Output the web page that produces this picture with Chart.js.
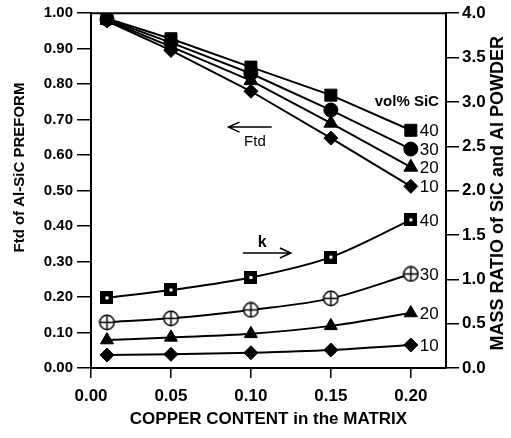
<!DOCTYPE html>
<html>
<head>
<meta charset="utf-8">
<script src="https://cdn.jsdelivr.net/npm/chart.js@4/dist/chart.umd.min.js"></script>
<style>
  html, body { margin: 0; padding: 0; background: #fff; }
  #wrap { width: 511px; height: 438px; }
</style>
</head>
<body>
<div id="wrap"><canvas id="chart" width="511" height="438"></canvas></div>
<script>
// copper content in the matrix (x)
const copper = [0.01, 0.05, 0.10, 0.15, 0.20]
const volLabels = ["40", "30", "20", "10"]

// Ftd of Al-SiC preform (left axis)
const ftd40 = [0.985, 0.928, 0.848, 0.769, 0.670]
const ftd30 = [0.983, 0.917, 0.830, 0.727, 0.617]
const ftd20 = [0.980, 0.906, 0.810, 0.690, 0.566]
const ftd10 = [0.978, 0.895, 0.780, 0.648, 0.512]

// mass ratio k of SiC and Al powder (right axis)
const k40 = [0.79, 0.88, 1.02, 1.25, 1.67]
const k30 = [0.515, 0.56, 0.655, 0.785, 1.06]
const k20 = [0.315, 0.345, 0.385, 0.475, 0.62]
const k10 = [0.146, 0.154, 0.172, 0.203, 0.26]

const leftTicks = [0, 0.1, 0.2, 0.3, 0.4, 0.5, 0.6, 0.7, 0.8, 0.9, 1.0]
const rightTicks = [0, 0.5, 1.0, 1.5, 2.0, 2.5, 3.0, 3.5, 4.0]
const xTicks = [0, 0.05, 0.10, 0.15, 0.20]

const FONT = "'Liberation Sans', Arial, sans-serif"

// marker images for the k series that Chart.js has no built-in style for
function squareDot() {
  const c = document.createElement("canvas")
  c.width = 13; c.height = 13
  const g = c.getContext("2d")
  g.fillStyle = "#000"
  g.fillRect(0, 0, 13, 13)
  g.fillStyle = "#fff"
  g.fillRect(5, 5, 3, 3)
  return c
}
function circleCross() {
  const c = document.createElement("canvas")
  c.width = 17; c.height = 17
  const g = c.getContext("2d")
  g.fillStyle = "#fff"
  g.strokeStyle = "#000"
  g.lineWidth = 1.5
  g.beginPath()
  g.arc(8.5, 8.5, 7.2, 0, Math.PI * 2)
  g.fill()
  g.stroke()
  g.beginPath()
  g.moveTo(8.5, 1.3); g.lineTo(8.5, 15.7)
  g.moveTo(1.3, 8.5); g.lineTo(15.7, 8.5)
  g.stroke()
  return c
}

const pts = (ys) => copper.map((x, i) => ({ x, y: ys[i] }))

function ftdSet(ys, style, radius) {
  return {
    data: pts(ys), yAxisID: "y", borderColor: "#000", backgroundColor: "#000",
    borderWidth: 2, pointStyle: style, pointRadius: radius, pointBorderWidth: 1,
    tension: 0
  }
}
function kSet(ys, style, radius) {
  return {
    data: pts(ys), yAxisID: "y1", borderColor: "#000", backgroundColor: "#000",
    borderWidth: 2, pointStyle: style, pointRadius: radius, pointBorderWidth: 1,
    tension: 0.35, cubicInterpolationMode: "monotone"
  }
}

// frame, arrows, side titles and text labels (placed in data units)
const annotations = {
  id: "annotations",
  afterDatasetsDraw(chart) {
    const { ctx, chartArea: a, scales } = chart
    const X = (v) => scales.x.getPixelForValue(v)
    const Y = (v) => scales.y.getPixelForValue(v)
    ctx.save()
    ctx.strokeStyle = "#000"
    ctx.lineWidth = 2
    ctx.beginPath()
    ctx.moveTo(a.left, a.top); ctx.lineTo(a.right, a.top)
    ctx.stroke()

    // Ftd arrow pointing left
    ctx.lineWidth = 1.5
    let y = Y(0.679), x0 = X(0.086), x1 = X(0.113)
    ctx.beginPath()
    ctx.moveTo(x1, y); ctx.lineTo(x0, y)
    ctx.moveTo(x0 + 11, y - 5); ctx.lineTo(x0, y); ctx.lineTo(x0 + 11, y + 5)
    ctx.stroke()
    // k arrow pointing right
    y = Y(0.324); x0 = X(0.095); x1 = X(0.125)
    ctx.beginPath()
    ctx.moveTo(x0, y); ctx.lineTo(x1, y)
    ctx.moveTo(x1 - 11, y - 5); ctx.lineTo(x1, y); ctx.lineTo(x1 - 11, y + 5)
    ctx.stroke()

    ctx.fillStyle = "#000"
    ctx.textAlign = "center"
    ctx.textBaseline = "middle"
    ctx.font = "15px " + FONT
    ctx.fillText("Ftd", X(0.1025), Y(0.637))
    ctx.font = "bold 16px " + FONT
    ctx.fillText("k", X(0.107), Y(0.354))
    ctx.font = "bold 15px " + FONT
    ctx.fillText("vol% SiC", X(0.1975), Y(0.749))

    // both side titles read bottom to top
    ctx.save()
    ctx.translate(20, Y(0.565))
    ctx.rotate(-Math.PI / 2)
    ctx.font = "bold 15px " + FONT
    ctx.fillText("Ftd of Al-SiC PREFORM", 0, 0)
    ctx.restore()
    ctx.save()
    ctx.translate(498, scales.y1.getPixelForValue(1.97))
    ctx.rotate(-Math.PI / 2)
    ctx.font = "bold 18px " + FONT
    ctx.fillText("MASS RATIO of SiC and Al POWDER", 0, 0)
    ctx.restore()

    // vol% labels next to the last point of each series
    ctx.font = "17px " + FONT
    ctx.textAlign = "left"
    chart.data.datasets.forEach((ds, i) => {
      const meta = chart.getDatasetMeta(i)
      const p = meta.data[meta.data.length - 1]
      ctx.fillText(volLabels[i % 4], p.x + 9, p.y + 1)
    })
    ctx.restore()
  }
}

new Chart(document.getElementById("chart"), {
  type: "line",
  data: {
    datasets: [
      ftdSet(ftd40, "rect", 8.5),
      ftdSet(ftd30, "circle", 7),
      ftdSet(ftd20, "triangle", 8),
      ftdSet(ftd10, "rectRot", 7),
      kSet(k40, squareDot(), 7),
      kSet(k30, circleCross(), 8),
      kSet(k20, "triangle", 7.5),
      kSet(k10, "rectRot", 7)
    ]
  },
  options: {
    responsive: false,
    animation: false,
    layout: { padding: { top: 13, left: 0, right: 0, bottom: 0 } },
    plugins: { legend: { display: false }, tooltip: { enabled: false } },
    scales: {
      x: {
        type: "linear", min: 0, max: 0.222,
        afterFit: (s) => { s.height = 70 },
        afterBuildTicks: (s) => { s.ticks = xTicks.map((v) => ({ value: v })) },
        ticks: {
          color: "#000", padding: 8, maxRotation: 0,
          font: { family: FONT, size: 17, weight: "bold" },
          callback: (v) => v.toFixed(2)
        },
        grid: { drawOnChartArea: false, color: "#000", lineWidth: 1.5, tickLength: 10 },
        border: { display: true, color: "#000", width: 2 },
        title: {
          display: true, text: "COPPER CONTENT in the MATRIX", color: "#000",
          font: { family: FONT, size: 17, weight: "bold" }, padding: { top: 0, bottom: 8 }
        }
      },
      y: {
        position: "left", min: 0, max: 1,
        afterFit: (s) => { s.width = 91 },
        afterBuildTicks: (s) => { s.ticks = leftTicks.map((v) => ({ value: v })) },
        ticks: {
          color: "#000", padding: 4,
          font: { family: FONT, size: 15, weight: "bold" },
          callback: (v) => v.toFixed(2)
        },
        grid: { drawOnChartArea: false, color: "#000", lineWidth: 1.5, tickLength: 14 },
        border: { display: true, color: "#000", width: 2 }
      },
      y1: {
        position: "right", min: 0, max: 4,
        afterFit: (s) => { s.width = 65 },
        afterBuildTicks: (s) => { s.ticks = rightTicks.map((v) => ({ value: v })) },
        ticks: {
          color: "#000", padding: 3,
          font: { family: FONT, size: 17, weight: "bold" },
          callback: (v) => v.toFixed(1)
        },
        grid: { drawOnChartArea: false, color: "#000", lineWidth: 1.5, tickLength: 13 },
        border: { display: true, color: "#000", width: 2 }
      }
    }
  },
  plugins: [annotations]
})
</script>
</body>
</html>
